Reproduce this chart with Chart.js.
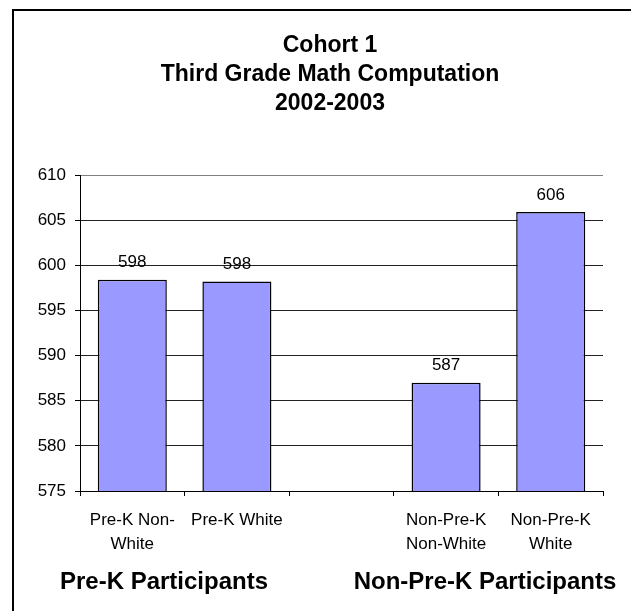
<!DOCTYPE html>
<html>
<head>
<meta charset="utf-8">
<title>Cohort 1 - Third Grade Math Computation</title>
<script src="https://cdn.jsdelivr.net/npm/chart.js@4.4.1/dist/chart.umd.min.js"></script>
<style>
    body { margin: 0; background: #fff; }
    canvas { display: block; }
</style>
</head>
<body>
<canvas id="scoreChart" width="631" height="611"></canvas>
<script>
// categories (blank slot splits the two groups)
var categories = [['Pre-K Non-', 'White'], ['Pre-K White'], '', ['Non-Pre-K', 'Non-White'], ['Non-Pre-K', 'White']];
var scores = [598.4, 598.2, null, 587.0, 605.9];
var groupNames = ['Pre-K Participants', 'Non-Pre-K Participants'];
var titleLines = ['Cohort 1', 'Third Grade Math Computation', '2002-2003'];
var yTicks = { min: 575, max: 610, step: 5 };

var fontFace = 'Arial, "Liberation Sans", sans-serif';

// outer frame, title block and group captions under the axis
var framePlugin = {
    id: 'frame',
    beforeDraw(chart) {
        let c = chart.ctx;
        c.save();
        c.fillStyle = '#fff';
        c.fillRect(0, 0, chart.width, chart.height);
        c.strokeStyle = '#000';
        c.lineWidth = 2;
        c.beginPath();
        c.moveTo(13, chart.height + 2);
        c.lineTo(13, 10);
        c.lineTo(chart.width + 2, 10);
        c.stroke();

        c.fillStyle = '#000';
        c.textAlign = 'center';
        c.textBaseline = 'middle';
        c.font = 'bold 23px ' + fontFace;
        titleLines.forEach((line, i) => {
            c.fillText(line, 330, 46 + i * 29);
        });
        c.restore();
    },
    afterDraw(chart) {
        let c = chart.ctx;
        c.save();
        c.fillStyle = '#000';
        c.font = 'bold 24px ' + fontFace;
        c.textAlign = 'center';
        c.textBaseline = 'middle';
        c.fillText(groupNames[0], 164, 582);
        c.fillText(groupNames[1], 485, 582);
        c.restore();
    }
};

// value above each bar
var valueLabels = {
    id: 'valueLabels',
    afterDatasetsDraw(chart) {
        let c = chart.ctx;
        let meta = chart.getDatasetMeta(0);
        c.save();
        c.fillStyle = '#000';
        c.font = '17px ' + fontFace;
        c.textAlign = 'center';
        c.textBaseline = 'middle';
        meta.data.forEach((bar, i) => {
            let v = scores[i];
            if (v === null) return;
            c.fillText(Math.round(v), bar.x, bar.y - 17);
        });
        c.restore();
    }
};

var ctx = document.getElementById('scoreChart');
var myChart = new Chart(ctx, {
    type: 'bar',
    data: {
        labels: categories,
        datasets: [{
            data: scores,
            backgroundColor: '#9999ff',
            borderColor: '#000',
            borderWidth: 1.5,
            categoryPercentage: 1,
            barPercentage: 0.66,
        }]
    },
    options: {
        responsive: false,
        animation: false,
        layout: {
            padding: { left: 12, right: 28, top: 175, bottom: 0 }
        },
        plugins: {
            legend: { display: false },
            tooltip: { enabled: false },
            title: { display: false }
        },
        scales: {
            x: {
                grid: {
                    offset: true,
                    color: (c) => c.index === categories.length ? '#808080' : 'rgba(0,0,0,0)',
                    tickColor: '#000',
                    tickLength: 5,
                },
                border: { display: true, color: '#000', width: 1 },
                ticks: {
                    color: '#000',
                    padding: 12,
                    maxRotation: 0,
                    autoSkip: false,
                    font: { family: fontFace, size: 17, lineHeight: 1.42 }
                },
                afterFit(scale) { scale.height = 120; }
            },
            y: {
                min: yTicks.min,
                max: yTicks.max,
                grid: {
                    color: (c) => c.tick && c.tick.value === yTicks.max ? '#808080' : '#222',
                    tickColor: '#000',
                    tickLength: 5,
                },
                border: { display: true, color: '#000', width: 1 },
                ticks: {
                    stepSize: yTicks.step,
                    color: '#000',
                    padding: 9,
                    font: { family: fontFace, size: 17 }
                },
                afterFit(scale) { scale.width = 68; }
            }
        }
    },
    plugins: [framePlugin, valueLabels]
});
</script>
</body>
</html>
